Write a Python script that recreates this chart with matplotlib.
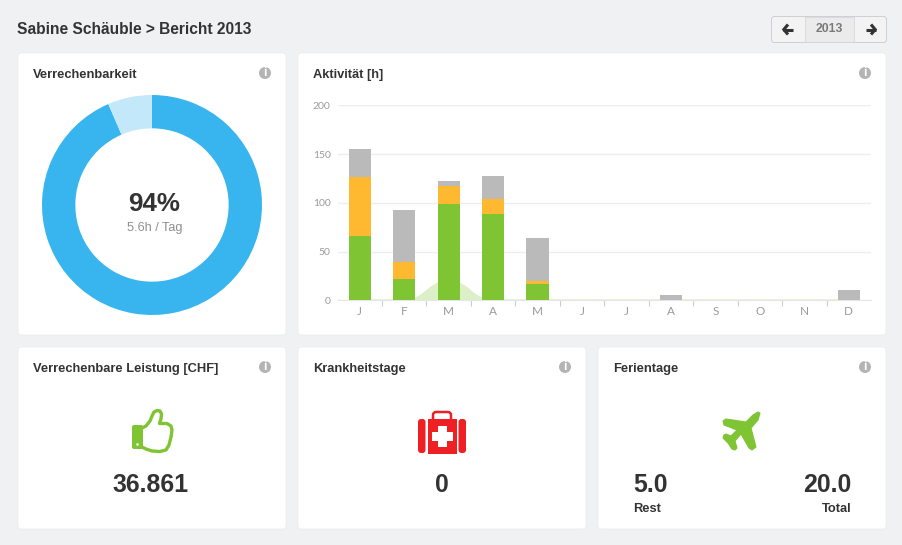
"""Bericht dashboard - donut, stacked month bars and the three KPI cards."""

import matplotlib
matplotlib.use("Agg")
import matplotlib.pyplot as plt
from matplotlib.patches import Circle, FancyBboxPatch, PathPatch, Polygon, Rectangle
from matplotlib.path import Path

W, H = 902, 545

# ---------------------------------------------------------------------------
# Data
# ---------------------------------------------------------------------------
months = ["J", "F", "M", "A", "M", "J", "J", "A", "S", "O", "N", "D"]
billable = [66, 22, 99, 89, 17, 0, 0, 0, 0, 0, 0, 0]
internal = [60, 17, 18, 15, 3, 0, 0, 0, 0, 0, 0, 0]
other = [29, 54, 5, 24, 44, 0, 0, 5, 0, 0, 0, 11]
background_area = [1, 1, 20, 1, 1, 1, 1, 1, 1, 1, 1, 1]
y_ticks = [0, 50, 100, 150, 200]
donut_values = [93.5, 6.5]

BG = "#f0f1f3"
DARK = "#333333"
GREEN = "#7fc433"
RED = "#ee2024"
GREY_TEXT = "#8f8f8f"

plt.rcParams["font.family"] = ["Liberation Sans", "DejaVu Sans"]

fig = plt.figure(figsize=(W / 100, H / 100), dpi=100, facecolor=BG)


def px_axes(x0, y0, x1, y1, **kw):
    """Axes placed by pixel box, y counted from the top of the image."""
    return fig.add_axes([x0 / W, 1 - y1 / H, (x1 - x0) / W, (y1 - y0) / H], **kw)


# ---------------------------------------------------------------------------
# Page layer (pixel coordinates)
# ---------------------------------------------------------------------------
page = px_axes(0, 0, W, H, zorder=0)
page.set_xlim(0, W)
page.set_ylim(H, 0)
page.axis("off")


def card(x0, y0, x1, y1, title):
    page.add_patch(FancyBboxPatch((x0 + 2, y0 + 2), x1 - x0 - 4, y1 - y0 - 4,
                                  boxstyle="round,pad=2,rounding_size=3",
                                  fc="white", ec="#ebecee", lw=0.6))
    page.text(x0 + 15, y0 + 22, title, fontsize=9.3, fontweight="bold",
              color=DARK, va="center")
    # info icon
    page.add_patch(Circle((x1 - 21, y0 + 20), 6, fc="#b4b4b4", ec="none"))
    page.text(x1 - 21, y0 + 20.3, "i", fontsize=8.5, fontweight="bold",
              color="white", ha="center", va="center")


card(18, 53, 286, 335, "Verrechenbarkeit")
card(298, 53, 886, 335, "Aktivität [h]")
card(18, 347, 286, 529, "Verrechenbare Leistung [CHF]")
card(298, 347, 586, 529, "Krankheitstage")
card(598, 347, 886, 529, "Ferientage")

page.text(17, 29.5, "Sabine Schäuble > Bericht 2013", fontsize=11.2, fontweight="bold",
          color=DARK, va="center")

# year switcher
page.add_patch(FancyBboxPatch((773.5, 18.5), 111, 22, boxstyle="round,pad=2,rounding_size=3",
                              fc="#f3f3f3", ec="#c8cacd", lw=0.6))
page.add_patch(Rectangle((804.5, 16.8), 49, 25, fc="#ebebeb", ec="#d2d3d5", lw=0.5))
page.text(829, 29.5, "2013", fontsize=8.8, color="#7a7a7a",
          ha="center", va="center", fontweight="bold")
for tip, d in [(783, 1), (876, -1)]:
    page.plot([tip, tip + 10 * d], [29.5, 29.5], color=DARK, lw=2.2, solid_capstyle="butt")
    page.plot([tip + 5 * d, tip + 0.8 * d, tip + 5 * d], [24.5, 29.5, 34.5], color=DARK,
              lw=2.2, solid_joinstyle="miter", solid_capstyle="butt")

# ---------------------------------------------------------------------------
# Donut
# ---------------------------------------------------------------------------
donut = px_axes(42, 95, 262, 315, zorder=1)
donut.pie(donut_values, colors=["#38b5ef", "#c3e8f9"], startangle=90, counterclock=False,
          radius=1.0, wedgeprops={"width": 0.303})
donut.set_xlim(-1, 1)
donut.set_ylim(-1, 1)
page.text(154.5, 204, "94%", fontsize=18.7, color=DARK, ha="center", va="center",
          fontweight="bold", zorder=5)
page.text(155, 228, "5.6h / Tag", fontsize=9.2, color=GREY_TEXT, ha="center", va="center")

# ---------------------------------------------------------------------------
# Activity bars
# ---------------------------------------------------------------------------
ax = px_axes(337.5, 105.3, 871, 300.3, zorder=1)
ax.patch.set_alpha(0)
ax.set_xlim(-0.5, 11.5)
ax.set_ylim(0, 200)

# smooth light-green area behind the bars
verts = [(0, 0), (0, background_area[0])]
codes = [Path.MOVETO, Path.LINETO]
for i in range(1, len(months)):
    mid = i - 0.5
    verts += [(mid, background_area[i - 1]), (mid, background_area[i]), (i, background_area[i])]
    codes += [Path.CURVE4] * 3
verts += [(len(months) - 1, 0), (0, 0)]
codes += [Path.LINETO, Path.CLOSEPOLY]
ax.add_patch(PathPatch(Path(verts, codes), fc="#dcf0c8", ec="none", zorder=1))

xs = list(range(len(months)))
bottom2 = [a + b for a, b in zip(billable, internal)]
ax.bar(xs, billable, width=0.5, color=GREEN, zorder=3)
ax.bar(xs, internal, width=0.5, bottom=billable, color="#ffb931", zorder=3)
ax.bar(xs, other, width=0.5, bottom=bottom2, color="#bababa", zorder=3)

ax.set_yticks(y_ticks)
ax.grid(axis="y", color="#eeeeee", lw=1)
ax.set_axisbelow(True)
ax.tick_params(axis="y", length=0, pad=5, labelsize=7.5, labelcolor="#9a9a9a",
               labelfontfamily="Lato")
ax.set_xticks(xs)
ax.set_xticklabels(months, fontfamily="Lato")
ax.tick_params(axis="x", length=0, pad=4, labelsize=8.5, labelcolor="#9a9a9a")
for s in ["top", "left", "right"]:
    ax.spines[s].set_visible(False)
ax.spines["bottom"].set_color("#e6e6e6")
ax.set_xticks([i + 0.5 for i in range(11)], minor=True)
ax.tick_params(axis="x", which="minor", length=4, width=0.8, color="#c0d0e0", direction="out")

# ---------------------------------------------------------------------------
# KPI cards
# ---------------------------------------------------------------------------
page.text(150.5, 484.5, "36.861", fontsize=17.9, fontweight="bold", color=DARK,
          ha="center", va="center")
page.text(441.5, 484.5, "0", fontsize=17.9, fontweight="bold", color=DARK,
          ha="center", va="center")
page.text(633, 484.5, "5.0", fontsize=17.9, fontweight="bold", color=DARK, va="center")
page.text(851, 484.5, "20.0", fontsize=17.9, fontweight="bold", color=DARK, ha="right", va="center")
page.text(633, 508.5, "Rest", fontsize=9.3, fontweight="bold", color=DARK, va="center")
page.text(852, 508.5, "Total", fontsize=9.3, fontweight="bold", color=DARK, ha="right", va="center")

# thumbs-up icon
page.add_patch(FancyBboxPatch((133, 426), 9, 22, boxstyle="round,pad=1,rounding_size=2",
                              fc=GREEN, ec="none"))
page.add_patch(Circle((137.5, 444.5), 1.3, fc="white", ec="none"))
page.plot([142, 146, 150, 152, 154, 157, 160, 161.5, 161, 159.5, 167, 171, 172, 171,
           169, 166, 160, 152, 146, 142],
          [428, 426, 421, 416, 412, 410.5, 411, 414, 419, 423.5, 423.5, 426, 430, 437,
           445, 450, 451.5, 451, 449, 447],
          color=GREEN, lw=2.4, solid_joinstyle="round")

# first-aid case icon
page.add_patch(FancyBboxPatch((434, 413), 16, 8, boxstyle="round,pad=1,rounding_size=3",
                              fc="none", ec=RED, lw=1.8))
page.add_patch(FancyBboxPatch((420, 421), 3.5, 30, boxstyle="round,pad=2,rounding_size=3",
                              fc=RED, ec="none"))
page.add_patch(FancyBboxPatch((460.5, 421), 3.5, 30, boxstyle="round,pad=2,rounding_size=3",
                              fc=RED, ec="none"))
page.add_patch(Rectangle((427.5, 419), 29, 34.5, fc=RED, ec="none"))
page.add_patch(Rectangle((437.5, 425.5), 9, 21, fc="white", ec="none"))
page.add_patch(Rectangle((431.5, 431.5), 21, 9, fc="white", ec="none"))

# plane icon
page.add_patch(Polygon(
    [(760, 413), (758, 420), (751, 428), (756, 447), (752, 450), (749, 448), (741, 434),
     (735, 441), (737, 448), (735, 450), (732, 449), (728, 443), (723, 438), (724, 435),
     (726, 434), (731, 436), (737, 430), (724, 425), (723, 421), (726, 419), (746, 422),
     (753, 415), (758, 412)],
    closed=True, fc=GREEN, ec=GREEN, lw=0.8, joinstyle="round"))

fig.savefig("out.png", dpi=100, facecolor=BG)
